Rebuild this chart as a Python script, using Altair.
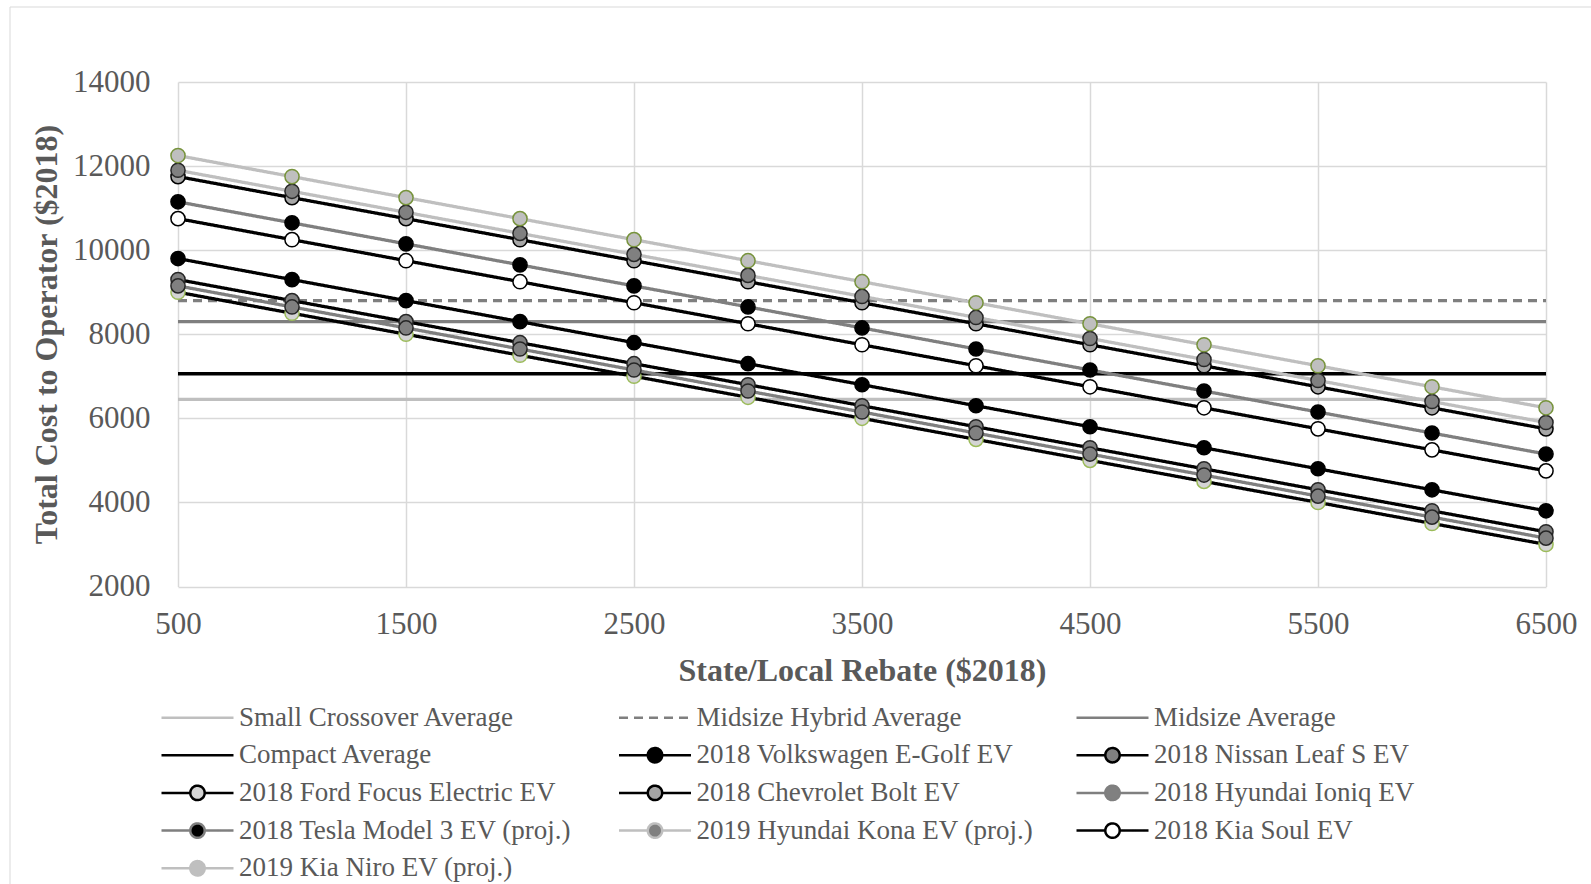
import altair as alt
import pandas as pd

# ---------------- data ----------------
rebate = [500, 1000, 1500, 2000, 2500, 3000, 3500, 4000, 4500, 5000, 5500, 6000, 6500]
x_ticks = [500, 1500, 2500, 3500, 4500, 5500, 6500]
y_ticks = [2000, 4000, 6000, 8000, 10000, 12000, 14000]

series_names = [
    "Small Crossover Average", "Midsize Hybrid Average", "Midsize Average",
    "Compact Average", "2018 Volkswagen E-Golf EV", "2018 Nissan Leaf S EV",
    "2018 Ford Focus Electric EV", "2018 Chevrolet Bolt EV", "2018 Hyundai Ioniq EV",
    "2018 Tesla Model 3 EV (proj.)", "2019 Hyundai Kona EV (proj.)", "2018 Kia Soul EV",
    "2019 Kia Niro EV (proj.)",
]

avg_names = series_names[:4]
avg_values = [6450, 8800, 8300, 7060]

ev_names = series_names[4:]
egolf = [9800, 9300, 8800, 8300, 7800, 7300, 6800, 6300, 5800, 5300, 4800, 4300, 3800]
leaf = [9300, 8800, 8300, 7800, 7300, 6800, 6300, 5800, 5300, 4800, 4300, 3800, 3300]
focus = [9000, 8500, 8000, 7500, 7000, 6500, 6000, 5500, 5000, 4500, 4000, 3500, 3000]
bolt = [11750, 11250, 10750, 10250, 9750, 9250, 8750, 8250, 7750, 7250, 6750, 6250, 5750]
ioniq = [9150, 8650, 8150, 7650, 7150, 6650, 6150, 5650, 5150, 4650, 4150, 3650, 3150]
tesla = [11150, 10650, 10150, 9650, 9150, 8650, 8150, 7650, 7150, 6650, 6150, 5650, 5150]
kona = [11900, 11400, 10900, 10400, 9900, 9400, 8900, 8400, 7900, 7400, 6900, 6400, 5900]
soul = [10750, 10250, 9750, 9250, 8750, 8250, 7750, 7250, 6750, 6250, 5750, 5250, 4750]
niro = [12250, 11750, 11250, 10750, 10250, 9750, 9250, 8750, 8250, 7750, 7250, 6750, 6250]
ev_values = [egolf, leaf, focus, bolt, ioniq, tesla, kona, soul, niro]

# ---------------- styles ----------------
line_colors = ["#BFBFBF", "#7F7F7F", "#7F7F7F", "#000000", "#000000", "#000000",
               "#000000", "#000000", "#7F7F7F", "#7F7F7F", "#BFBFBF", "#000000", "#BFBFBF"]
line_dashes = [[1, 0], [9, 6], [1, 0], [1, 0]] + [[1, 0]] * 9
marker_fills = ["transparent"] * 4 + ["#000000", "#808080", "#D4D4D4", "#A6A6A6", "#808080",
                                      "#000000", "#808080", "#FFFFFF", "#BFBFBF"]
marker_outlines = ["#000000", "#262626", "#9BBB59", "#000000", "#262626",
                   "#000000", "#262626", "#000000", "#77933C"]
# legend key paths: a wide horizontal line (x from -3 to 3) with an optional dot
LINE_ONLY = "M-3,0L3,0"
r = 0.6
LINE_DOT = (f"M-3,0L{-r},0M{r},0L3,0M{-r},0A{r},{r},0,1,1,{r},0A{r},{r},0,1,1,{-r},0Z")
legend_shapes = [LINE_ONLY] * 4 + [LINE_DOT] * 9

FONT = "Liberation Serif"
TXT = "#595959"
GRID = "#D9D9D9"

# ---------------- tables ----------------
line_rows = []
for name, v in zip(avg_names, avg_values):
    for x in (rebate[0], rebate[-1]):
        line_rows.append({"rebate": x, "cost": v, "series": name})
pt_rows = []
for name, vals, oc in zip(ev_names, ev_values, marker_outlines):
    for x, v in zip(rebate, vals):
        line_rows.append({"rebate": x, "cost": v, "series": name})
        pt_rows.append({"rebate": x, "cost": v, "series": name, "outline": oc})
lines_df = pd.DataFrame(line_rows)
pts_df = pd.DataFrame(pt_rows)

legend = alt.Legend(
    title=None, orient="none", legendX=-18, legendY=622, direction="horizontal",
    columns=3, gridAlign="all", columnPadding=37.5, rowPadding=9.7, padding=0,
    labelFont=FONT, labelFontSize=27, labelColor=TXT, labelLimit=900, labelOffset=28,
    symbolSize=576, symbolOffset=24, symbolStrokeWidth=2.5, symbolOpacity=1,
    symbolFillColor="transparent",
)

x_enc = alt.X("rebate:Q", scale=alt.Scale(domain=[500, 6500], nice=False, zero=False),
              axis=alt.Axis(values=x_ticks, format="d", title="State/Local Rebate ($2018)",
                            labelFlush=False, labelOverlap=False, labelPadding=23,
                            titleX=684, titleY=84, titleBaseline="middle"))
y_enc = alt.Y("cost:Q", scale=alt.Scale(domain=[2000, 14000], nice=False, zero=False),
              axis=alt.Axis(values=y_ticks, format="d", title="Total Cost to Operator ($2018)",
                            labelPadding=28, titleX=-132, titleY=252, titleAngle=270,
                            titleBaseline="middle", titleAlign="center"))

frame = alt.Chart(pd.DataFrame({"frame": [0]})).mark_rect(
    fill="transparent", stroke=GRID, strokeWidth=1
).encode(x=alt.value(-168), x2=alt.value(1440), y=alt.value(-75), y2=alt.value(830))

lines = alt.Chart(lines_df).mark_line(strokeWidth=3.3).encode(
    x=x_enc, y=y_enc,
    stroke=alt.Stroke("series:N", scale=alt.Scale(domain=series_names, range=line_colors), legend=legend),
    strokeDash=alt.StrokeDash("series:N", scale=alt.Scale(domain=series_names, range=line_dashes), legend=legend),
)

points = alt.Chart(pts_df).mark_point(filled=True, opacity=1, shape="circle", size=200, strokeWidth=1.5).encode(
    x=x_enc, y=y_enc,
    fill=alt.Fill("series:N", scale=alt.Scale(domain=series_names, range=marker_fills), legend=legend),
    stroke=alt.Stroke("outline:N", scale=None),
)

shape_keys = alt.Chart(pts_df).mark_point(filled=True, opacity=0).encode(
    x=x_enc, y=y_enc,
    fill=alt.Fill("series:N", scale=alt.Scale(domain=series_names, range=marker_fills), legend=legend),
    shape=alt.Shape("series:N", scale=alt.Scale(domain=series_names, range=legend_shapes), legend=legend),
)

chart = alt.layer(frame, lines, shape_keys, points).properties(
    width=1368, height=504.5,
    autosize=alt.AutoSizeParams(type="none"),
    padding={"left": 178, "top": 82, "right": 45, "bottom": 297.5},
    background="white",
).configure_view(stroke="transparent").configure_axis(
    grid=True, gridColor=GRID, gridWidth=1.5, domain=False, ticks=False,
    labelFont=FONT, labelFontSize=31, labelColor=TXT,
    titleFont=FONT, titleFontSize=32, titleFontWeight="bold", titleColor=TXT,
).configure_text(font=FONT)

chart.save("out.html", embed_options={"renderer": "svg", "actions": False})
